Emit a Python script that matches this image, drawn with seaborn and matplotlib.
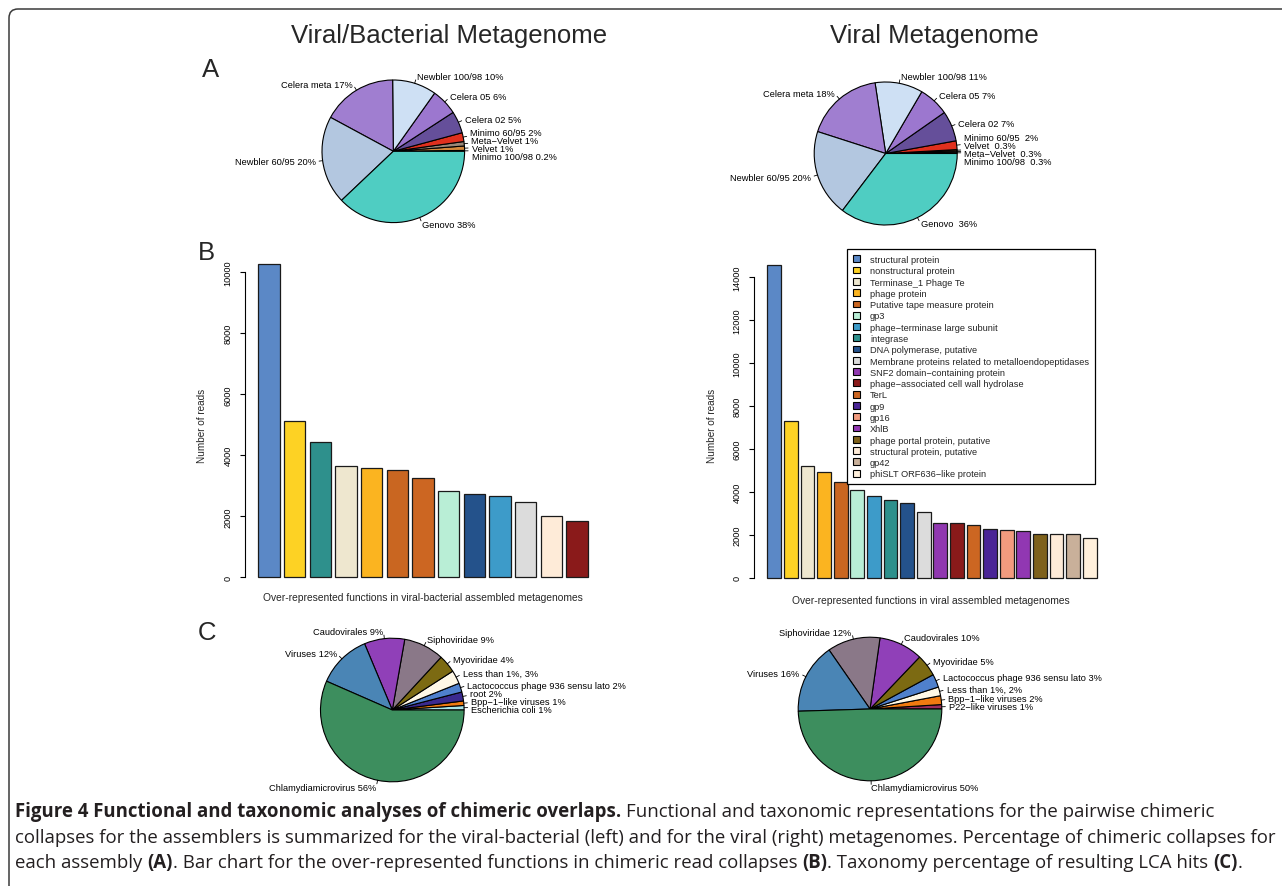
import numpy as np
import pandas as pd
import matplotlib
matplotlib.use("Agg")
import matplotlib.pyplot as plt
import seaborn as sns
from matplotlib.patches import Patch, FancyBboxPatch
from matplotlib.lines import Line2D

# ---------------------------------------------------------------- data
# Panel A: share of chimeric collapses per assembler (%)
asm_vb_names = ["Minimo 100/98", "Velvet", "Meta−Velvet", "Minimo 60/95", "Celera 02",
                "Celera 05", "Newbler 100/98", "Celera meta", "Newbler 60/95", "Genovo"]
asm_vb_pct = [0.2, 1, 1, 2, 5, 6, 10, 17, 20, 38]
asm_vb_labels = ["Minimo 100/98 0.2%", "Velvet 1%", "Meta−Velvet 1%", "Minimo 60/95 2%",
                 "Celera 02 5%", "Celera 05 6%", "Newbler 100/98 10%", "Celera meta 17%",
                 "Newbler 60/95 20%", "Genovo 38%"]

asm_v_names = ["Minimo 100/98", "Meta−Velvet", "Velvet", "Minimo 60/95", "Celera 02",
               "Celera 05", "Newbler 100/98", "Celera meta", "Newbler 60/95", "Genovo"]
asm_v_pct = [0.3, 0.3, 0.3, 2, 7, 7, 11, 18, 20, 36]
asm_v_labels = ["Minimo 100/98  0.3%", "Meta−Velvet  0.3%", "Velvet  0.3%", "Minimo 60/95  2%",
                "Celera 02 7%", "Celera 05 7%", "Newbler 100/98 11%", "Celera meta 18%",
                "Newbler 60/95 20%", "Genovo  36%"]

# Panel B: over-represented functions (number of reads)
fn_vb_names = ["structural protein", "nonstructural protein", "integrase", "Terminase_1 Phage Te",
               "phage protein", "Putative tape measure protein", "TerL", "gp3",
               "DNA polymerase, putative", "phage−terminase large subunit",
               "Membrane proteins related to metalloendopeptidases",
               "structural protein, putative", "phage−associated cell wall hydrolase"]
fn_vb_reads = [10270, 5125, 4435, 3660, 3575, 3515, 3245, 2830, 2720, 2665, 2480, 2000, 1860]

fn_v_names = ["structural protein", "nonstructural protein", "Terminase_1 Phage Te", "phage protein",
              "Putative tape measure protein", "gp3", "phage−terminase large subunit", "integrase",
              "DNA polymerase, putative", "Membrane proteins related to metalloendopeptidases",
              "SNF2 domain−containing protein", "phage−associated cell wall hydrolase", "TerL",
              "gp9", "gp16", "XhlB", "phage portal protein, putative",
              "structural protein, putative", "gp42", "phiSLT ORF636−like protein"]
fn_v_reads = [14590, 7290, 5205, 4910, 4475, 4085, 3805, 3635, 3480, 3075,
              2550, 2535, 2455, 2285, 2235, 2160, 2050, 2035, 2020, 1865]

# Panel C: taxonomy of LCA hits (%)
tax_vb_names = ["Escherichia coli", "Bpp−1−like viruses", "root", "Lactococcus phage 936 sensu lato",
                "Less than 1%", "Myoviridae", "Siphoviridae", "Caudovirales", "Viruses",
                "Chlamydiamicrovirus"]
tax_vb_pct = [1, 1, 2, 2, 3, 4, 9, 9, 12, 56]
tax_vb_labels = ["Escherichia coli 1%", "Bpp−1−like viruses 1%", "root 2%",
                 "Lactococcus phage 936 sensu lato 2%", "Less than 1%, 3%", "Myoviridae 4%",
                 "Siphoviridae 9%", "Caudovirales 9%", "Viruses 12%", "Chlamydiamicrovirus 56%"]

tax_v_names = ["P22−like viruses", "Bpp−1−like viruses", "Less than 1%",
               "Lactococcus phage 936 sensu lato", "Myoviridae", "Caudovirales", "Siphoviridae",
               "Viruses", "Chlamydiamicrovirus"]
tax_v_pct = [1, 2, 2, 3, 5, 10, 12, 16, 50]
tax_v_labels = ["P22−like viruses 1%", "Bpp−1−like viruses 2%", "Less than 1%, 2%",
                "Lactococcus phage 936 sensu lato 3%", "Myoviridae 5%", "Caudovirales 10%",
                "Siphoviridae 12%", "Viruses 16%", "Chlamydiamicrovirus 50%"]

# ---------------------------------------------------------------- colours
asm_colors = {
    "Minimo 100/98": "#B0642A", "Velvet": "#D2883C", "Meta−Velvet": "#9A8878",
    "Minimo 60/95": "#E0301E", "Celera 02": "#654F9A", "Celera 05": "#9C77CF",
    "Newbler 100/98": "#CEE0F4", "Celera meta": "#A07ED0", "Newbler 60/95": "#B3C7E0",
    "Genovo": "#4FCDC2",
}
fn_colors = {
    "structural protein": "#5B88C6", "nonstructural protein": "#FDD224",
    "Terminase_1 Phage Te": "#EEE7CF", "phage protein": "#FBB420",
    "Putative tape measure protein": "#C96621", "gp3": "#B9EED6",
    "phage−terminase large subunit": "#3D9BC9", "integrase": "#2E908C",
    "DNA polymerase, putative": "#24528B",
    "Membrane proteins related to metalloendopeptidases": "#DCDCDC",
    "SNF2 domain−containing protein": "#9038B0",
    "phage−associated cell wall hydrolase": "#8A1A1A", "TerL": "#CC6622",
    "gp9": "#4A2596", "gp16": "#F29B7E", "XhlB": "#9137B2",
    "phage portal protein, putative": "#7E611B", "structural protein, putative": "#FEEBD8",
    "gp42": "#C9B09A", "phiSLT ORF636−like protein": "#FFF0DC",
}
tax_colors = {
    "Chlamydiamicrovirus": "#3D8E5E", "Viruses": "#4A85B5", "Caudovirales": "#9040B8",
    "Siphoviridae": "#8A7888", "Myoviridae": "#7C6A12", "Less than 1%": "#FFF8E6",
    "Lactococcus phage 936 sensu lato": "#4F80CC", "root": "#3B2A8F",
    "Bpp−1−like viruses": "#F07A10", "Escherichia coli": "#A8E4E8",
    "P22−like viruses": "#9A2D5E",
}

# ---------------------------------------------------------------- setup
sns.set_style("white")
plt.rcParams["font.family"] = ["Liberation Sans", "DejaVu Sans"]
plt.rcParams["axes.unicode_minus"] = True

W, H = 1282, 887
fig = plt.figure(figsize=(W / 100, H / 100), dpi=100)
fig.patch.set_facecolor("white")


def px_box(x0, y0, w, h):
    """Pixel box (top-left origin) -> figure fraction rect."""
    return [x0 / W, 1 - (y0 + h) / H, w / W, h / H]


def fx(x):
    return x / W


def fy(y):
    return 1 - y / H


def spread(ys, gap):
    """Push label heights apart so neighbours are at least `gap` apart."""
    ys = np.asarray(ys, float)
    order = list(np.argsort(ys))
    clusters = [[i] for i in order]

    def span(c):
        m = ys[c].mean()
        return m - (len(c) - 1) / 2 * gap, m + (len(c) - 1) / 2 * gap

    changed = True
    while changed:
        changed = False
        for k in range(len(clusters) - 1):
            if span(clusters[k + 1])[0] - span(clusters[k])[1] < gap:
                clusters[k] += clusters.pop(k + 1)
                changed = True
                break
    out = np.empty(len(ys))
    for c in clusters:
        m = ys[c].mean()
        for j, i in enumerate(c):
            out[i] = m + (j - (len(c) - 1) / 2) * gap
    return out


def draw_pie(cx, cy, r_px, values, names, labels, palette, fs=6.7, gap=0.115):
    S = 300
    ax = fig.add_axes(px_box(cx - S / 2, cy - S / 2, S, S))
    ax.patch.set_visible(False)
    wedges, _ = ax.pie(values, colors=[palette[n] for n in names], startangle=0,
                       counterclock=True, radius=1, normalize=True,
                       wedgeprops=dict(edgecolor="black", linewidth=0.8))
    L = S / 2 / r_px
    ax.set_xlim(-L, L)
    ax.set_ylim(-L, L)
    ax.set_aspect("equal")
    ax.axis("off")
    mids = np.deg2rad([(w.theta1 + w.theta2) / 2 for w in wedges])
    cosm, sinm = np.cos(mids), np.sin(mids)
    ty = 1.1 * sinm.copy()
    for side in (cosm >= 0, cosm < 0):
        idx = np.where(side)[0]
        if len(idx):
            ty[idx] = spread(1.1 * sinm[idx], gap)
    for c, s, y, lab in zip(cosm, sinm, ty, labels):
        ax.add_line(Line2D([c, 1.05 * c], [s, 1.05 * s], color="black", lw=0.6))
        ax.text(1.1 * c, y, lab, ha="left" if c >= 0 else "right", va="center",
                fontsize=fs, color="black")
    return ax


def draw_bars(box, names, reads, zero_y, top_tick, top_tick_y, bar_l, bar_r, step=2000):
    x0, y0, x1, y1 = box
    ax = fig.add_axes(px_box(x0, y0, x1 - x0, y1 - y0))
    ax.patch.set_visible(False)
    df = pd.DataFrame({"function": names, "reads": reads})
    wf = 1 / 1.2
    sns.barplot(data=df, x="function", y="reads", hue="function", order=names,
                hue_order=names, palette=[fn_colors[n] for n in names], saturation=1,
                width=wf, edgecolor="#1a1a1a", linewidth=0.9, legend=False, ax=ax)
    ppu = (zero_y - top_tick_y) / top_tick
    ax.set_ylim((zero_y - y1) / ppu, (zero_y - y0) / ppu)
    n = len(names)
    unit = (bar_r - bar_l) / (n - 1 + wf)
    c0 = bar_l + wf * unit / 2
    ax.set_xlim((x0 - c0) / unit, (x1 - c0) / unit)
    ax.set_xticks([])
    ax.set_xlabel("")
    ax.set_ylabel("")
    for sp in ("top", "right", "bottom"):
        ax.spines[sp].set_visible(False)
    ax.spines["left"].set_bounds(0, top_tick)
    ax.spines["left"].set_linewidth(0.8)
    ax.spines["left"].set_color("black")
    ticks = list(range(0, top_tick + 1, step))
    ax.set_yticks(ticks)
    ax.set_yticklabels([str(t) for t in ticks], rotation=90, va="center", fontsize=6.6)
    ax.tick_params(axis="y", direction="out", length=3.6, width=0.8, pad=5.5,
                   color="black", labelcolor="black", left=True)
    return ax


# ---------------------------------------------------------------- panel A
draw_pie(393.3, 152.3, 71.3, asm_vb_pct, asm_vb_names, asm_vb_labels, asm_colors)
draw_pie(885.7, 154.5, 71.5, asm_v_pct, asm_v_names, asm_v_labels, asm_colors)

# ---------------------------------------------------------------- panel B
draw_bars((245, 255, 600, 590), fn_vb_names, fn_vb_reads,
          zero_y=578.3, top_tick=10000, top_tick_y=273.3, bar_l=258.3, bar_r=587.7)
ax_v = draw_bars((754.3, 255, 1110, 590), fn_v_names, fn_v_reads,
                 zero_y=578.7, top_tick=14000, top_tick_y=278.3, bar_l=767.3, bar_r=1096.7)

handles = [Patch(facecolor=fn_colors[n], edgecolor="black", linewidth=0.8) for n in fn_v_names]
leg = ax_v.legend(handles, fn_v_names, loc="upper left",
                  bbox_to_anchor=(fx(847.3), fy(250)), bbox_transform=fig.transFigure,
                  borderaxespad=0, fontsize=6.7, frameon=True, fancybox=False,
                  edgecolor="black", framealpha=1, handlelength=0.75, handleheight=0.75,
                  handletextpad=1.05, labelspacing=0.245, borderpad=0.65)
leg.get_frame().set_linewidth(0.9)

for x, y, s in [(202.3, 425.7, "Number of reads"), (711.7, 425.7, "Number of reads")]:
    fig.text(fx(x), fy(y), s, rotation=90, ha="center", va="center", fontsize=7.2)
fig.text(fx(423), fy(598), "Over-represented functions in viral-bacterial assembled metagenomes",
         ha="center", va="center", fontsize=7.4)
fig.text(fx(931), fy(600.5), "Over-represented functions in viral assembled metagenomes",
         ha="center", va="center", fontsize=7.4)

# ---------------------------------------------------------------- panel C
draw_pie(392.3, 711, 71.8, tax_vb_pct, tax_vb_names, tax_vb_labels, tax_colors)
draw_pie(870, 710, 71.8, tax_v_pct, tax_v_names, tax_v_labels, tax_colors)

# ---------------------------------------------------------------- titles and panel letters
fig.text(fx(449), fy(36), "Viral/Bacterial Metagenome", ha="center", va="center", fontsize=18.5)
fig.text(fx(934), fy(36), "Viral Metagenome", ha="center", va="center", fontsize=18.5)
for x, y, s in [(210.4, 70, "A"), (206.7, 253.3, "B"), (207.5, 633.5, "C")]:
    fig.text(fx(x), fy(y), s, ha="center", va="center", fontsize=18.5)

# ---------------------------------------------------------------- rounded frame
frame = FancyBboxPatch((9, -40), 1330, 877 + 40, boxstyle="round,pad=0,rounding_size=9",
                       transform=None, facecolor="none", edgecolor="#3a3a3a", linewidth=1.1,
                       clip_on=False)
fig.patches.append(frame)

# ---------------------------------------------------------------- caption
cap_family = "Open Sans"
caption = [
    [("Figure 4 Functional and taxonomic analyses of chimeric overlaps.", "bold"),
     (" Functional and taxonomic representations for the pairwise chimeric", "normal")],
    [("collapses for the assemblers is summarized for the viral-bacterial (left) and for the "
      "viral (right) metagenomes. Percentage of chimeric collapses for", "normal")],
    [("each assembly ", "normal"), ("(A)", "bold"),
     (". Bar chart for the over-represented functions in chimeric read collapses ", "normal"),
     ("(B)", "bold"), (". Taxonomy percentage of resulting LCA hits ", "normal"),
     ("(C)", "bold"), (".", "normal")],
]
renderer = fig.canvas.get_renderer()


def text_width(s, weight, size):
    t = fig.text(0, 0, s, fontsize=size, fontweight=weight, family=cap_family)
    w = t.get_window_extent(renderer).width
    t.remove()
    return w


base = 12.0
cap_size = base * 1251 / text_width(caption[1][0][0], "normal", base)
space_w = text_width("a a", "normal", cap_size) - text_width("aa", "normal", cap_size)

for line, y in zip(caption, [812, 838, 863.5]):
    x = 15.0
    for s, weight in line:
        lead = len(s) - len(s.lstrip(" "))
        trail = len(s) - len(s.rstrip(" "))
        core = s.strip(" ")
        x += lead * space_w
        fig.text(fx(x), fy(y), core, fontsize=cap_size, fontweight=weight, family=cap_family,
                 ha="left", va="center", color="#231F20")
        x += text_width(core, weight, cap_size) + trail * space_w

fig.savefig("out.png", dpi=100, facecolor="white")
